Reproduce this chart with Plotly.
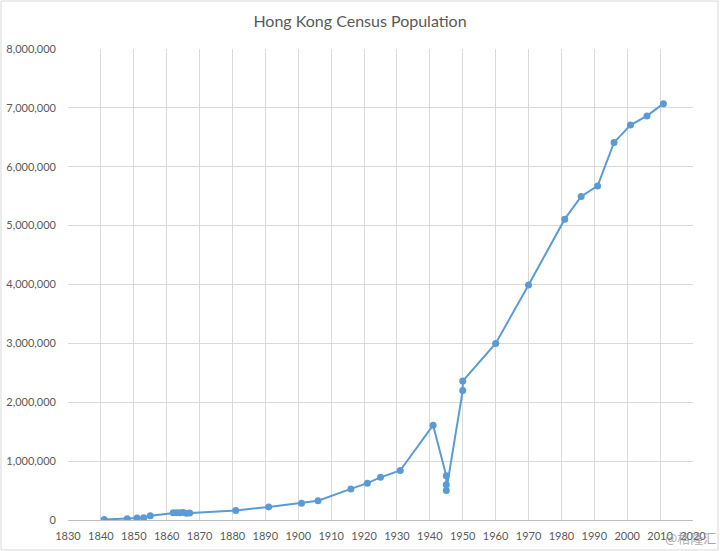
import plotly.graph_objects as go

years = [1841, 1848, 1851, 1853, 1855, 1862, 1863, 1864, 1865, 1866, 1867,
         1881, 1891, 1901, 1906, 1916, 1921, 1925, 1931, 1941,
         1945, 1945, 1945, 1950, 1950, 1960, 1970, 1981, 1986, 1991,
         1996, 2001, 2006, 2011]
population = [7450, 21514, 32983, 39017, 72607, 123511, 124850, 121498, 125504, 115098, 117471,
              160402, 221441, 283975, 326961, 528000, 625166, 725000, 840473, 1610000,
              750000, 600000, 500000, 2200000, 2360000, 3000000, 3990000, 5110000, 5495000, 5674000,
              6413000, 6708000, 6864000, 7072000]

x_ticks = list(range(1830, 2021, 10))
y_ticks = list(range(0, 8000001, 1000000))
y_labels = ["0"] + [f"{v:,}" for v in y_ticks[1:]]

L, R, T, B = 68, 27, 49, 31
fig = go.Figure()
fig.add_trace(go.Scatter(
    x=years, y=population, mode="lines+markers",
    line=dict(color="#5b9bd5", width=2),
    marker=dict(color="#5b9bd5", size=7),
    hoverinfo="x+y", showlegend=False,
))

fig.update_layout(
    width=720, height=551,
    margin=dict(l=L, r=R, t=T, b=B, autoexpand=False),
    paper_bgcolor="white", plot_bgcolor="white",
    font=dict(family="Lato, Carlito, Open Sans, sans-serif", color="#595959", size=11),
    title=dict(text="Hong Kong Census Population", x=0.5, xanchor="center",
               y=1 - 21 / 551, yanchor="middle",
               font=dict(size=16, color="#595959")),
    xaxis=dict(range=[1830, 2020], tickvals=x_ticks, ticktext=[str(t) for t in x_ticks],
               showgrid=True, gridcolor="#d9d9d9", gridwidth=1,
               showline=True, linecolor="#bfbfbf", linewidth=1, automargin=False,
               zeroline=False, ticks="", ticklen=0, ticklabelstandoff=6,
               tickfont=dict(size=11, color="#595959")),
    yaxis=dict(range=[0, 8000000], tickvals=y_ticks, ticktext=y_labels,
               showgrid=True, gridcolor="#d9d9d9", gridwidth=1, automargin=False,
               showline=False, zeroline=False, ticks="", ticklen=0,
               ticklabelstandoff=11,
               tickfont=dict(size=11, color="#595959")),
)

pw, ph = 720 - L - R, 551 - T - B
fig.add_shape(type="rect", xref="paper", yref="paper",
              x0=-(L - 1) / pw, x1=1 + (R - 2) / pw, y0=-(B - 1) / ph, y1=1 + (T - 1) / ph,
              line=dict(color="#d9d9d9", width=1), fillcolor="rgba(0,0,0,0)", layer="below")

fig.add_annotation(text="@格隆汇", xref="paper", yref="paper",
                   x=1 + (R - 2) / pw, y=-17 / ph, xanchor="right", yanchor="middle",
                   showarrow=False,
                   font=dict(size=13, color="rgba(140,140,140,0.75)",
                             family="Noto Sans CJK SC, sans-serif"))

fig.write_html("out.html")
